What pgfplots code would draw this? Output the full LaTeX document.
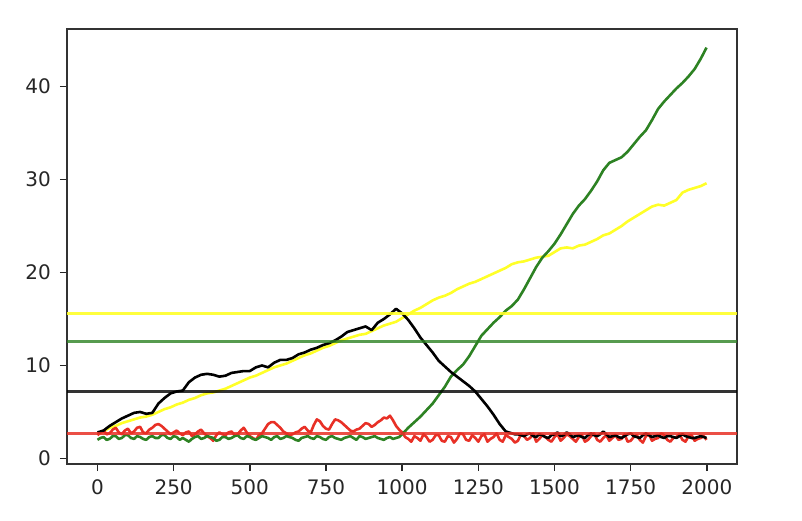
\documentclass[border=0pt]{standalone}
\usepackage{fontspec}
\setmainfont{DejaVu Sans}
\usepackage{pgfplots}
\usepackage{pgfplotstable}
\pgfplotsset{compat=1.18}
\definecolor{cyel}{RGB}{255,255,40}
\definecolor{cgrn}{RGB}{45,130,35}
\definecolor{cred}{RGB}{232,48,38}

\pgfplotstableread{
x y
0 2.6
20 2.9
40 3.3
60 3.5
80 3.8
100 4.0
120 4.2
140 4.4
160 4.5
180 4.7
200 5.0
220 5.3
240 5.5
260 5.8
280 6.0
300 6.3
320 6.5
340 6.8
360 7.0
380 7.1
400 7.3
420 7.5
440 7.8
460 8.1
480 8.4
500 8.7
520 8.9
540 9.2
560 9.5
580 9.8
600 10.0
620 10.2
640 10.5
660 10.8
680 11.1
700 11.3
720 11.6
740 11.9
760 12.1
780 12.4
800 12.7
820 12.9
840 13.1
860 13.3
880 13.4
900 13.7
920 14.0
940 14.3
960 14.5
980 14.7
1000 15.1
1020 15.5
1040 15.9
1060 16.2
1080 16.6
1100 17.0
1120 17.3
1140 17.5
1160 17.8
1180 18.2
1200 18.5
1220 18.8
1240 19.0
1260 19.3
1280 19.6
1300 19.9
1320 20.2
1340 20.5
1360 20.9
1380 21.1
1400 21.2
1420 21.4
1440 21.6
1460 21.7
1480 21.8
1500 22.2
1520 22.6
1540 22.7
1560 22.6
1580 22.9
1600 23.0
1620 23.3
1640 23.6
1660 24.0
1680 24.2
1700 24.6
1720 25.0
1740 25.5
1760 25.9
1780 26.3
1800 26.7
1820 27.1
1840 27.3
1860 27.2
1880 27.5
1900 27.8
1920 28.6
1940 28.9
1960 29.1
1980 29.3
1999 29.6
}\yellowdata

\pgfplotstableread{
x y
0 2.5
10 2.8
20 3.0
30 2.6
40 2.7
50 3.1
60 3.3
70 2.8
80 2.6
90 3.0
100 3.2
110 2.7
120 2.9
130 3.3
140 3.4
150 2.8
160 2.7
170 3.1
180 3.3
190 3.6
200 3.7
210 3.5
220 3.2
230 2.9
240 2.6
250 2.8
260 3.0
270 2.7
280 2.5
290 2.8
300 2.9
310 2.4
320 2.6
330 2.9
340 3.1
350 2.7
360 2.4
370 2.2
380 1.9
390 2.5
400 2.8
410 2.6
420 2.5
430 2.8
440 2.9
450 2.5
460 2.6
470 3.0
480 3.3
490 2.8
500 2.4
510 2.2
520 2.0
530 2.5
540 2.7
550 3.2
560 3.7
570 3.9
580 3.9
590 3.6
600 3.3
610 2.9
620 2.7
630 2.5
640 2.6
650 2.8
660 2.9
670 3.2
680 3.4
690 3.0
700 2.8
710 3.6
720 4.2
730 4.0
740 3.5
750 3.2
760 3.1
770 3.7
780 4.2
790 4.1
800 3.9
810 3.6
820 3.3
830 3.0
840 2.9
850 3.1
860 3.2
870 3.5
880 3.8
890 3.7
900 3.4
910 3.6
920 3.9
930 4.1
940 4.4
950 4.3
960 4.6
970 4.1
980 3.5
990 3.1
1000 2.8
1010 2.3
1020 2.1
1030 1.8
1040 2.4
1050 2.2
1060 1.9
1070 2.6
1080 2.3
1090 1.8
1100 2.0
1110 2.5
1120 2.5
1130 1.9
1140 1.8
1150 2.4
1160 2.3
1170 1.7
1180 2.1
1190 2.7
1200 2.6
1210 2.0
1220 1.9
1230 2.5
1240 2.2
1250 1.8
1260 2.4
1270 2.6
1280 1.8
1290 2.1
1300 2.3
1310 2.7
1320 2.0
1330 1.8
1340 2.5
1350 2.3
1360 2.1
1370 1.7
1380 1.9
1390 2.6
1400 2.4
1410 2.0
1420 2.2
1430 2.7
1440 1.8
1450 2.1
1460 2.5
1470 2.3
1480 2.0
1490 1.8
1500 2.3
1510 2.6
1520 1.9
1530 2.2
1540 2.6
1550 2.4
1560 2.1
1570 1.8
1580 2.3
1590 2.5
1600 1.8
1610 2.0
1620 2.4
1630 2.7
1640 2.0
1650 1.8
1660 2.2
1670 2.5
1680 1.9
1690 2.2
1700 2.5
1710 2.0
1720 2.1
1730 2.6
1740 1.8
1750 1.9
1760 2.3
1770 2.5
1780 2.0
1790 1.7
1800 2.4
1810 2.6
1820 1.9
1830 2.1
1840 2.2
1850 2.7
1860 2.5
1870 2.0
1880 1.8
1890 2.2
1900 2.3
1910 2.6
1920 2.0
1930 1.8
1940 2.4
1950 2.5
1960 1.9
1970 2.1
1980 2.2
1990 2.4
1999 2.0
}\reddata

\pgfplotstableread{
x y
0 2.0
10 2.2
20 2.3
30 2.0
40 2.1
50 2.4
60 2.4
70 2.1
80 2.2
90 2.5
100 2.5
110 2.2
120 2.1
130 2.4
140 2.3
150 2.1
160 2.0
170 2.3
180 2.4
190 2.2
200 2.2
210 2.5
220 2.5
230 2.2
240 2.1
250 2.4
260 2.3
270 2.0
280 2.2
290 2.0
300 1.8
310 2.1
320 2.3
330 2.4
340 2.1
350 2.2
360 2.4
370 2.3
380 2.2
390 1.9
400 2.0
410 2.3
420 2.3
430 2.1
440 2.2
450 2.4
460 2.5
470 2.2
480 2.1
490 2.4
500 2.3
510 2.1
520 2.0
530 2.2
540 2.4
550 2.3
560 2.2
570 2.0
580 2.3
590 2.4
600 2.1
610 2.2
620 2.4
630 2.3
640 2.2
650 2.0
660 1.9
670 2.2
680 2.3
690 2.4
700 2.2
710 2.1
720 2.4
730 2.3
740 2.1
750 2.0
760 2.3
770 2.4
780 2.2
790 2.1
800 2.0
810 2.2
820 2.3
830 2.4
840 2.2
850 2.0
860 2.4
870 2.3
880 2.1
890 2.2
900 2.3
910 2.4
920 2.2
930 2.1
940 2.0
950 2.2
960 2.3
970 2.1
980 2.2
990 2.3
1000 2.6
1020 3.3
1040 3.9
1060 4.5
1080 5.2
1100 5.9
1120 6.8
1140 7.7
1160 8.8
1180 9.5
1200 10.1
1220 11.0
1240 12.1
1260 13.2
1280 13.9
1300 14.6
1320 15.2
1340 15.9
1360 16.4
1380 17.1
1400 18.2
1420 19.4
1440 20.6
1460 21.6
1480 22.3
1500 23.1
1520 24.1
1540 25.2
1560 26.3
1580 27.2
1600 27.9
1620 28.8
1640 29.8
1660 31.0
1680 31.8
1700 32.1
1720 32.4
1740 33.0
1760 33.8
1780 34.6
1800 35.3
1820 36.4
1840 37.6
1860 38.4
1880 39.1
1900 39.8
1920 40.4
1940 41.1
1960 41.9
1980 43.0
1999 44.2
}\greendata

\pgfplotstableread{
x y
0 2.8
20 3.0
40 3.5
60 3.9
80 4.3
100 4.6
120 4.9
140 5.0
160 4.8
180 4.9
200 5.9
220 6.5
240 7.0
260 7.2
280 7.3
300 8.2
320 8.7
340 9.0
360 9.1
380 9.0
400 8.8
420 8.9
440 9.2
460 9.3
480 9.4
500 9.4
520 9.8
540 10.0
560 9.8
580 10.3
600 10.6
620 10.6
640 10.8
660 11.2
680 11.4
700 11.7
720 11.9
740 12.2
760 12.4
780 12.7
800 13.1
820 13.6
840 13.8
860 14.0
880 14.2
900 13.8
920 14.6
940 15.0
960 15.5
980 16.1
1000 15.6
1020 14.9
1040 14.0
1060 13.0
1080 12.2
1100 11.4
1120 10.5
1140 9.9
1160 9.3
1180 8.8
1200 8.3
1220 7.8
1240 7.2
1260 6.4
1280 5.6
1300 4.7
1320 3.7
1340 2.9
1360 2.7
1370 2.6
1380 2.6
1390 2.5
1400 2.4
1410 2.6
1420 2.7
1430 2.4
1440 2.3
1450 2.6
1460 2.5
1470 2.3
1480 2.2
1490 2.5
1500 2.6
1510 2.8
1520 2.4
1530 2.5
1540 2.8
1550 2.6
1560 2.3
1570 2.4
1580 2.5
1590 2.3
1600 2.2
1610 2.5
1620 2.7
1630 2.5
1640 2.4
1650 2.6
1660 2.9
1670 2.6
1680 2.3
1690 2.4
1700 2.5
1710 2.3
1720 2.2
1730 2.4
1740 2.6
1750 2.7
1760 2.4
1770 2.3
1780 2.2
1790 2.5
1800 2.7
1810 2.5
1820 2.3
1830 2.4
1840 2.5
1850 2.3
1860 2.2
1870 2.4
1880 2.4
1890 2.3
1900 2.2
1910 2.4
1920 2.6
1930 2.4
1940 2.3
1950 2.2
1960 2.2
1970 2.3
1980 2.4
1990 2.3
1999 2.2
}\blackdata

\begin{document}
\begin{tikzpicture}
\begin{axis}[
  scale only axis,
  width=335pt, height=217.5pt,
  xmin=-100, xmax=2099,
  ymin=-0.6, ymax=46.2,
  xtick={0,250,500,750,1000,1250,1500,1750,2000},
  ytick={0,10,20,30,40},
  tick align=outside,
  tick pos=left,
  major tick length=3.5pt,
  every tick/.style={black!85, line width=0.8pt},
  axis line style={black!80, line width=0.8pt},
  tick label style={font=\fontsize{10}{12}\selectfont, text=black!85},
  /pgf/number format/assume math mode=true,
  /pgf/number format/1000 sep={},
  xticklabel style={yshift=-1pt},
  yticklabel style={xshift=-1pt},
  clip=true,
]
\addplot[cyel, line width=1.3pt, line join=round] table[x=x,y=y] {\yellowdata};
\addplot[cred, line width=1.3pt, line join=round] table[x=x,y=y] {\reddata};
\addplot[cgrn, line width=1.3pt, line join=round] table[x=x,y=y] {\greendata};
\addplot[black, line width=1.3pt, line join=round] table[x=x,y=y] {\blackdata};
\addplot[cyel, line width=1.5pt, opacity=0.9] coordinates {(-100,15.6) (2099,15.6)};
\addplot[cgrn, line width=1.5pt, opacity=0.8] coordinates {(-100,12.54) (2099,12.54)};
\addplot[black, line width=1.5pt, opacity=0.8] coordinates {(-100,7.16) (2099,7.16)};
\addplot[cred, line width=1.5pt, opacity=0.85] coordinates {(-100,2.69) (2099,2.69)};
\coordinate (sw) at (rel axis cs:0,0);
\coordinate (ne) at (rel axis cs:1,1);
\end{axis}
\path ([xshift=-33.5pt,yshift=-28pt]sw) rectangle ([xshift=32.5pt,yshift=14.5pt]ne);
\end{tikzpicture}
\end{document}
